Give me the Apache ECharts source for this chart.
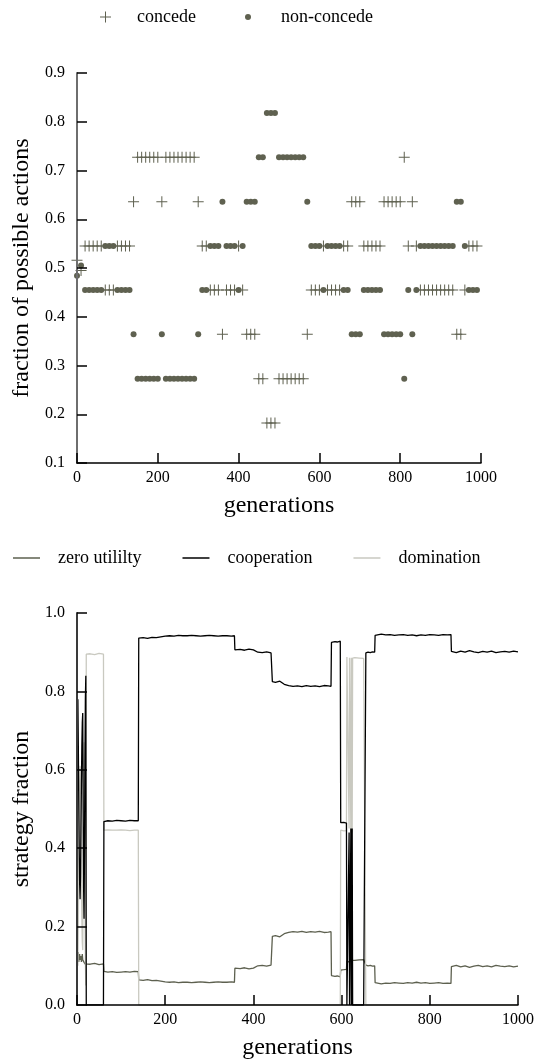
<!DOCTYPE html>
<html>
<head>
<meta charset="utf-8">
<script src="https://cdn.jsdelivr.net/npm/echarts/dist/echarts.min.js"></script>
<style>
html,body{margin:0;padding:0;background:#fff;}
#chart{width:543px;height:1063px;}
</style>
</head>
<body>
<div id="chart"></div>
<script>
// ---------- top chart: fraction of possible actions ----------
const scatterGens = [
  0,10,20,30,40,50,60,70,80,90,
  100,110,120,130,140,150,160,170,180,190,
  200,210,220,230,240,250,260,270,280,290,
  300,310,320,330,340,350,360,370,380,390,
  400,410,420,430,440,450,460,470,480,490,
  500,510,520,530,540,550,560,570,580,590,
  600,610,620,630,640,650,660,670,680,690,
  700,710,720,730,740,750,760,770,780,790,
  800,810,820,830,840,850,860,870,880,890,
  900,910,920,930,940,950,960,970,980,990
];
const concedeVals = [
  0.516,0.495,0.545,0.545,0.545,0.545,0.545,0.455,0.455,0.455,
  0.545,0.545,0.545,0.545,0.636,0.727,0.727,0.727,0.727,0.727,
  0.727,0.636,0.727,0.727,0.727,0.727,0.727,0.727,0.727,0.727,
  0.636,0.545,0.545,0.455,0.455,0.455,0.364,0.455,0.455,0.455,
  0.545,0.455,0.364,0.364,0.364,0.273,0.273,0.182,0.182,0.182,
  0.273,0.273,0.273,0.273,0.273,0.273,0.273,0.364,0.455,0.455,
  0.455,0.545,0.455,0.455,0.455,0.455,0.545,0.545,0.636,0.636,
  0.636,0.545,0.545,0.545,0.545,0.545,0.636,0.636,0.636,0.636,
  0.636,0.727,0.545,0.636,0.545,0.455,0.455,0.455,0.455,0.455,
  0.455,0.455,0.455,0.455,0.364,0.364,0.455,0.545,0.545,0.545
];
const nonConcedeVals = [
  0.484,0.505,0.455,0.455,0.455,0.455,0.455,0.545,0.545,0.545,
  0.455,0.455,0.455,0.455,0.364,0.273,0.273,0.273,0.273,0.273,
  0.273,0.364,0.273,0.273,0.273,0.273,0.273,0.273,0.273,0.273,
  0.364,0.455,0.455,0.545,0.545,0.545,0.636,0.545,0.545,0.545,
  0.455,0.545,0.636,0.636,0.636,0.727,0.727,0.818,0.818,0.818,
  0.727,0.727,0.727,0.727,0.727,0.727,0.727,0.636,0.545,0.545,
  0.545,0.455,0.545,0.545,0.545,0.545,0.455,0.455,0.364,0.364,
  0.364,0.455,0.455,0.455,0.455,0.455,0.364,0.364,0.364,0.364,
  0.364,0.273,0.455,0.364,0.455,0.545,0.545,0.545,0.545,0.545,
  0.545,0.545,0.545,0.545,0.636,0.636,0.545,0.455,0.455,0.455
];

// ---------- bottom chart: strategy fractions ----------
const lineGens = [
  0,1,2,3,4,5,6,7,8,9,10,11,12,13,14,15,16,17,18,19,20,21,
  30,40,50,60,
  61,70,80,90,100,110,120,130,139,
  140,150,160,170,180,190,200,210,220,230,240,250,260,270,280,290,300,310,320,330,340,350,357,
  358,370,380,390,400,410,420,430,440,442,
  443,450,460,470,480,490,500,510,520,530,540,550,560,570,576,
  577,585,590,597,
  598,605,611,
  612,615,616,617,618,620,621,622,623,624,625,630,640,650,654,
  655,660,665,670,675,
  676,680,690,700,710,720,730,740,750,760,770,780,790,800,810,820,830,840,848,
  849,860,870,880,890,900,910,920,930,940,950,960,970,980,990,1000
];
const zeroUtility = [
  0.10,0.13,0.12,0.135,0.11,0.12,0.13,0.115,0.12,0.125,0.11,0.12,0.13,0.115,0.12,0.11,0.11,0.11,0.105,0.11,0.11,0.105,
  0.104,0.106,0.103,0.105,
  0.086,0.084,0.085,0.083,0.084,0.085,0.084,0.086,0.085,
  0.064,0.063,0.065,0.062,0.063,0.061,0.059,0.058,0.059,0.057,0.058,0.058,0.057,0.058,0.059,0.058,0.057,0.058,0.059,0.058,0.058,0.059,0.058,
  0.094,0.093,0.095,0.092,0.094,0.100,0.101,0.099,0.102,0.101,
  0.175,0.177,0.174,0.182,0.185,0.187,0.186,0.188,0.185,0.187,0.186,0.188,0.185,0.186,0.187,
  0.075,0.073,0.074,0.072,
  0.089,0.090,0.091,
  0.112,0.114,0.113,0.110,0.114,0.113,0.110,0.114,0.110,0.110,0.115,0.114,0.115,0.116,0.114,
  0.102,0.100,0.101,0.099,0.100,
  0.057,0.056,0.054,0.056,0.055,0.057,0.056,0.055,0.057,0.056,0.058,0.056,0.057,0.055,0.056,0.057,0.055,0.056,0.055,
  0.098,0.101,0.097,0.100,0.096,0.099,0.101,0.098,0.100,0.097,0.101,0.099,0.098,0.100,0.097,0.099
];
const cooperation = [
  0.45,0.65,0.78,0.66,0.52,0.40,0.31,0.27,0.33,0.45,0.56,0.66,0.72,0.745,0.50,0.30,0.22,0.40,0.62,0.78,0.84,0.00,
  0,0,0,0,
  0.468,0.470,0.469,0.471,0.470,0.469,0.471,0.470,0.470,
  0.936,0.937,0.935,0.938,0.937,0.939,0.941,0.942,0.941,0.943,0.942,0.942,0.943,0.942,0.941,0.942,0.943,0.942,0.941,0.942,0.942,0.941,0.942,
  0.906,0.907,0.905,0.908,0.906,0.900,0.899,0.901,0.898,0.899,
  0.825,0.823,0.826,0.818,0.815,0.813,0.814,0.812,0.815,0.813,0.814,0.812,0.815,0.814,0.813,
  0.925,0.927,0.926,0.928,
  0.465,0.466,0.464,
  0,0,0,0.44,0,0,0.45,0,0.44,0.45,0,0,0,0,0,
  0.898,0.900,0.899,0.901,0.900,
  0.943,0.944,0.946,0.944,0.945,0.943,0.944,0.945,0.943,0.944,0.942,0.944,0.943,0.945,0.944,0.943,0.945,0.944,0.945,
  0.902,0.899,0.903,0.900,0.904,0.901,0.899,0.902,0.900,0.903,0.899,0.901,0.902,0.900,0.903,0.901
];
const domination = [
  0.43,0.24,0.10,0.21,0.36,0.48,0.57,0.61,0.55,0.42,0.32,0.22,0.16,0.14,0.38,0.58,0.67,0.49,0.27,0.11,0.05,0.895,
  0.896,0.894,0.897,0.895,
  0.446,0.447,0.446,0.446,0.447,0.446,0.445,0.446,0.446,
  0,0,0,0,0,0,0,0,0,0,0,0,0,0,0,0,0,0,0,0,0,0,0,
  0,0,0,0,0,0,0,0,0,0,
  0,0,0,0,0,0,0,0,0,0,0,0,0,0,0,
  0,0,0,0,
  0.446,0.444,0.445,
  0.888,0.886,0.887,0.450,0.886,0.887,0.440,0.886,0.450,0.440,0.885,0.886,0.885,0.884,0.886,
  0,0,0,0,0,
  0,0,0,0,0,0,0,0,0,0,0,0,0,0,0,0,0,0,0,
  0,0,0,0,0,0,0,0,0,0,0,0,0,0,0,0
];

const xTicks = [0,200,400,600,800,1000];

// ---------- styling ----------
const FONT = "'Liberation Serif','Times New Roman',serif";
const MARK = '#5f6150';
const CROSS = 'path://M0,5H11V6H0Z M5,0H6V11H5Z';

const pairs = (xs, ys) => xs.map((x, i) => [x, ys[i]]);

function xAxisCfg(gi) {
  return {
    gridIndex: gi, type: 'value', min: 0, max: 1000, interval: 200, z: 10,
    axisLine: {show: true, lineStyle: {color: '#000', width: 1.5}},
    axisTick: {show: true, inside: true, length: 10, lineStyle: {color: '#000', width: 1.5}},
    axisLabel: {fontFamily: FONT, fontSize: 16, color: '#000', margin: 7,
      formatter: v => xTicks.indexOf(v) >= 0 ? String(v) : ''},
    splitLine: {show: false},
    name: 'generations', nameLocation: 'middle', nameGap: 31,
    nameTextStyle: {fontFamily: FONT, fontSize: 24, color: '#000'}
  };
}
function yAxisCfg(gi, min, max, step, name, lineColor) {
  return {
    gridIndex: gi, type: 'value', min: min, max: max, interval: step, z: 10,
    axisLine: {show: true, lineStyle: {color: lineColor, width: 2}},
    axisTick: {show: true, inside: true, length: 10, lineStyle: {color: '#000', width: 1.5}},
    axisLabel: {fontFamily: FONT, fontSize: 16, color: '#000', margin: 12,
      formatter: v => v.toFixed(1)},
    splitLine: {show: false},
    name: name, nameLocation: 'middle', nameGap: 42, nameRotate: 90,
    nameTextStyle: {fontFamily: FONT, fontSize: 24, color: '#000'}
  };
}

const legendText = pad => ({fontFamily: FONT, fontSize: 18, color: '#000', lineHeight: 20, padding: [0, 0, 0, pad]});

const option = {
  animation: false,
  backgroundColor: '#ffffff',
  textStyle: {fontFamily: FONT},
  legend: [
    {data: ['concede'], left: 100, top: 7, padding: 0, itemWidth: 11, itemHeight: 11, selectedMode: false, textStyle: legendText(21)},
    {data: ['non-concede'], left: 245, top: 7, padding: 0, itemWidth: 6, itemHeight: 6, selectedMode: false, textStyle: legendText(25)},
    {data: ['zero utililty', 'cooperation', 'domination'], left: 13, top: 548, padding: 0, icon: 'rect',
      itemWidth: 27, itemHeight: 1.5, itemGap: 41, selectedMode: false, textStyle: legendText(13)}
  ],
  grid: [
    {left: 77, right: 62, top: 73, bottom: 600},
    {left: 77, right: 25, top: 613, bottom: 58}
  ],
  xAxis: [xAxisCfg(0), xAxisCfg(1)],
  yAxis: [
    yAxisCfg(0, 0.1, 0.9, 0.1, 'fraction of possible actions', '#6e6e6e'),
    yAxisCfg(1, 0, 1, 0.2, 'strategy fraction', '#3a3a3a')
  ],
  series: [
    {name: 'concede', type: 'scatter', xAxisIndex: 0, yAxisIndex: 0,
      symbol: CROSS, symbolSize: 11, itemStyle: {color: MARK, opacity: 1},
      data: pairs(scatterGens, concedeVals)},
    {name: 'non-concede', type: 'scatter', xAxisIndex: 0, yAxisIndex: 0,
      symbol: 'circle', symbolSize: 6, itemStyle: {color: MARK, opacity: 1},
      data: pairs(scatterGens, nonConcedeVals)},
    {name: 'zero utililty', type: 'line', xAxisIndex: 1, yAxisIndex: 1, symbol: 'none', showSymbol: false,
      lineStyle: {color: '#5d604f', width: 1.3}, itemStyle: {color: '#5d604f'}, z: 3,
      data: pairs(lineGens, zeroUtility)},
    {name: 'domination', type: 'line', xAxisIndex: 1, yAxisIndex: 1, symbol: 'none', showSymbol: false,
      lineStyle: {color: '#c9c9c0', width: 1.3}, itemStyle: {color: '#c9c9c0'}, z: 3,
      data: pairs(lineGens, domination)},
    {name: 'cooperation', type: 'line', xAxisIndex: 1, yAxisIndex: 1, symbol: 'none', showSymbol: false,
      lineStyle: {color: '#000000', width: 1.3}, itemStyle: {color: '#000000'}, z: 4,
      data: pairs(lineGens, cooperation)}
  ]
};

const chart = echarts.init(document.getElementById('chart'), null, {renderer: 'canvas'});
chart.setOption(option);
</script>
</body>
</html>
